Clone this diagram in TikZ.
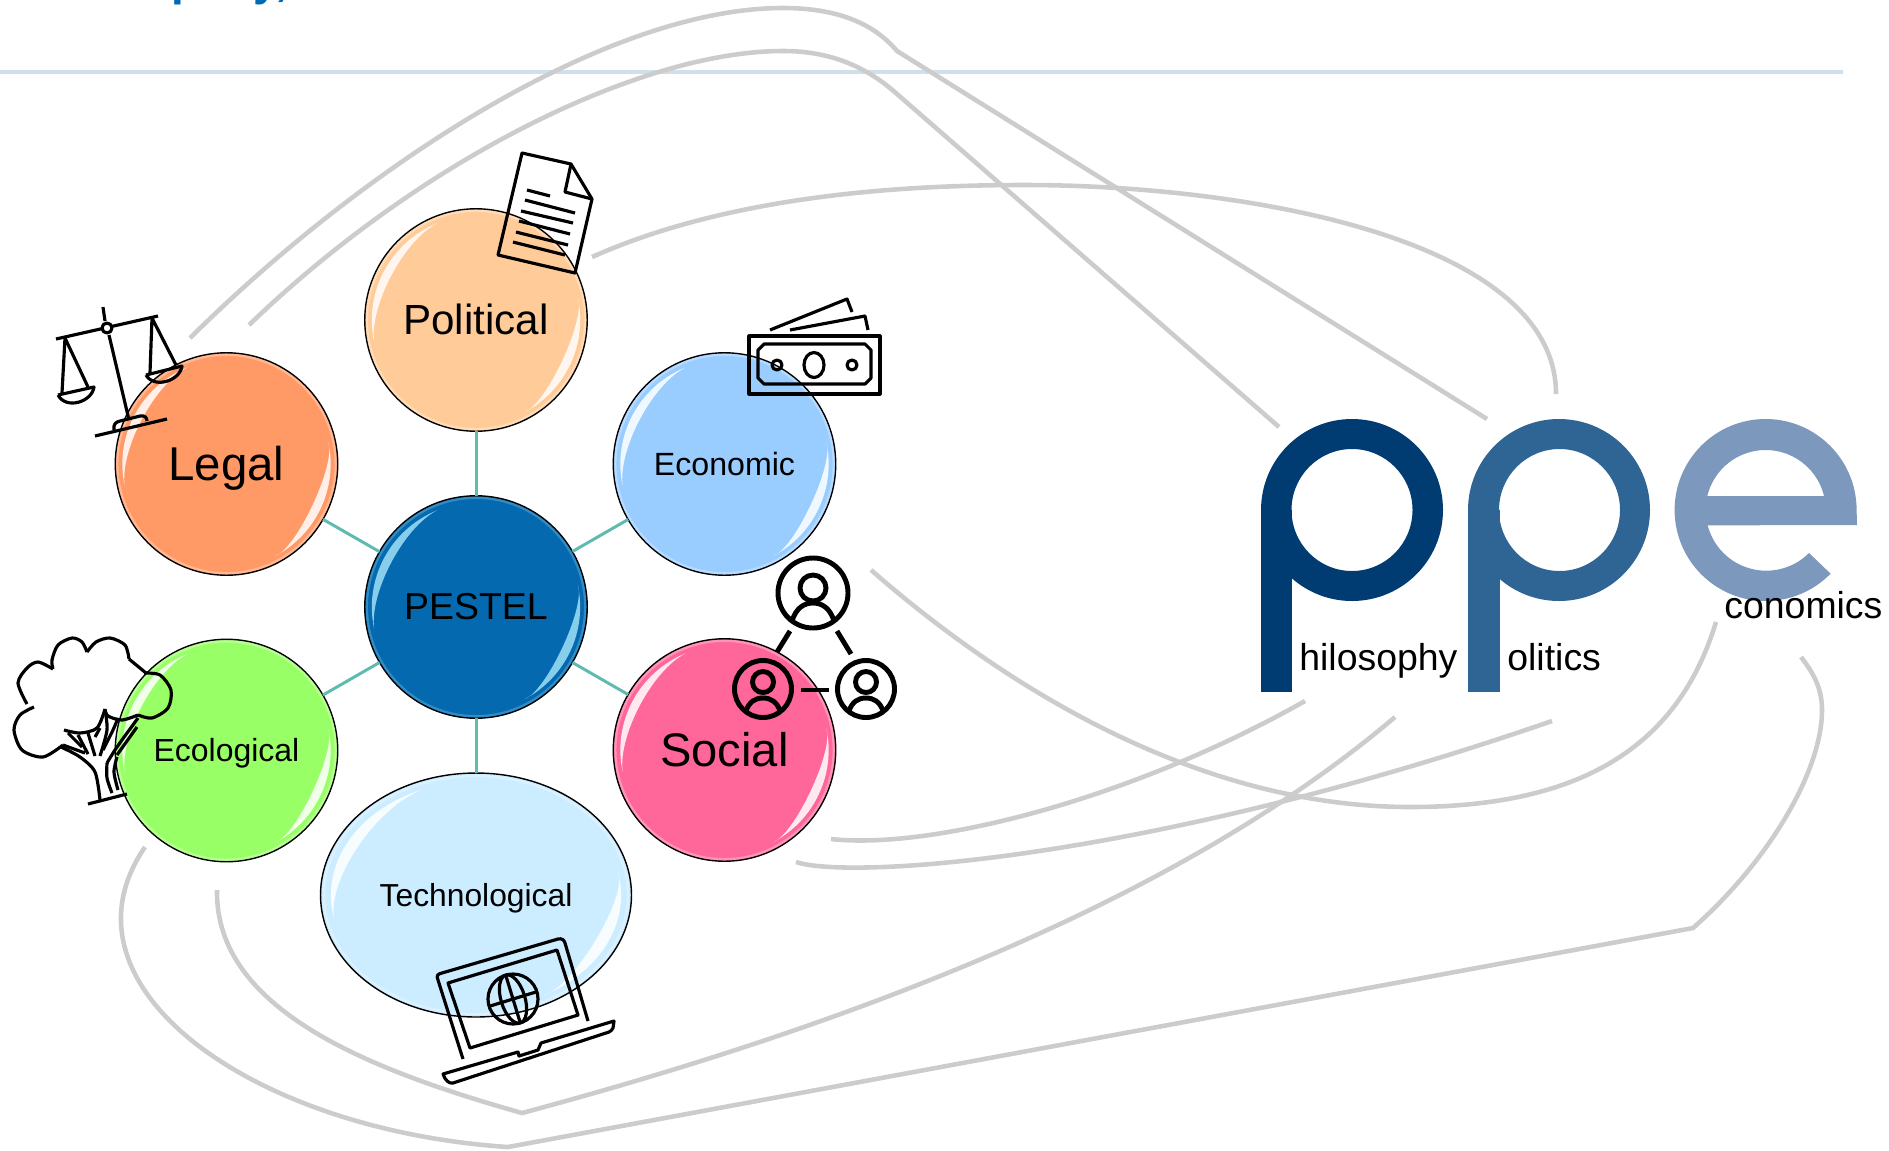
\documentclass[tikz,border=0pt]{standalone}
\usepackage{fontspec}
\setmainfont{Liberation Sans}
\usetikzlibrary{shapes,positioning,calc}
\definecolor{spoke}{HTML}{5FBBB0}
\definecolor{wire}{HTML}{CCCCCC}
\definecolor{headrule}{HTML}{D0E0EB}
\definecolor{headblue}{HTML}{0069B4}
\definecolor{ppeone}{HTML}{003B71}
\definecolor{ppetwo}{HTML}{2F6594}
\definecolor{ppethree}{HTML}{7C98BD}
\definecolor{pestelblue}{HTML}{0469AE}
\definecolor{pestelglow}{HTML}{9FE0F8}
\tikzstyle{bubble} = [ellipse, draw=black, line width=0.8pt, minimum width=4.45cm, minimum height=4.45cm, inner sep=0pt, outer sep=0pt, text=black, text depth=0.06em]
\tikzstyle{spokeline} = [spoke, line width=1.7pt]
\tikzstyle{wireline} = [wire, line width=2.6pt]
\tikzstyle{icon} = [black, line width=1.8pt, line join=round]
\tikzstyle{person} = [black, line width=2.8pt]
\tikzstyle{word} = [anchor=base west, inner sep=0pt, font=\fontsize{21.3}{26}\selectfont]

\begin{document}
\begin{tikzpicture}[x=0.02cm, y=-0.02cm]
    \useasboundingbox (0,0) rectangle (1889,1150);
    \node[anchor=base west, inner sep=0pt, text=headblue, font=\fontsize{26}{30}\bfseries\selectfont] (head) at (70,-5) {Company,};
    \draw[headrule, line width=2pt] (0,72) -- (1843,72);

    \node[bubble, fill=pestelblue, font=\fontsize{21.3}{26}\selectfont] (pestel) at (476,607) {PESTEL};
    \node[bubble, fill={rgb,255:red,255;green,204;blue,153}, font=\fontsize{24}{28}\selectfont] (political) at (476,320) {Political};
    \node[bubble, fill={rgb,255:red,255;green,153;blue,102}, font=\fontsize{27}{32}\selectfont] (legal) at (226.5,464) {Legal};
    \node[bubble, fill={rgb,255:red,153;green,204;blue,255}, font=\fontsize{18.3}{22}\selectfont] (economic) at (724.5,464) {Economic};
    \node[bubble, fill={rgb,255:red,153;green,255;blue,102}, font=\fontsize{18.2}{22}\selectfont] (ecological) at (226.5,750.5) {Ecological};
    \node[bubble, fill={rgb,255:red,255;green,102;blue,153}, font=\fontsize{26.8}{32}\selectfont] (social) at (724.5,750) {Social};
    \node[bubble, fill={rgb,255:red,204;green,236;blue,255}, font=\fontsize{18.1}{22}\selectfont, minimum width=6.22cm, minimum height=4.88cm] (technological) at (476,895) {Technological};

    \foreach \target in {political, legal, economic, ecological, social, technological}
        \draw[spokeline] (pestel) -- (\target);

    \foreach \n/\rx/\ry/\glow in {pestel/112/112/pestelglow, political/112/112/white, legal/112/112/white, economic/112/112/white, ecological/112/112/white, social/112/112/white, technological/156/122/white}{
        \begin{scope}[shift={(\n.center)}, x=\rx*0.02cm, y=\ry*0.02cm]
            \draw[\glow, opacity=0.3, line width=1.3pt] (0,0) ellipse[x radius=0.975, y radius=0.975];
            \fill[\glow, opacity=0.85] (192:0.93) arc[start angle=192, end angle=112, radius=0.93] .. controls (132:0.96) and (172:0.96) .. cycle;
            \fill[\glow, opacity=0.85] (12:0.93) arc[start angle=12, end angle=-62, radius=0.93] .. controls (-50:0.98) and (0:0.98) .. cycle;
        \end{scope}
    }

    \coordinate (legalin) at (190,338);
    \coordinate (politicalin) at (249,325);
    \coordinate (docout) at (592,257);
    \coordinate (peakone) at (783,8);
    \coordinate (peaktwo) at (783,51);
    \coordinate (kneeone) at (897,51);
    \coordinate (kneetwo) at (897,94);
    \coordinate (philtop) at (1279,427);
    \coordinate (poltop) at (1487,419);
    \coordinate (arcpeak) at (1024,185);
    \coordinate (ptop) at (1556,394);
    \coordinate (econin) at (871,570);
    \coordinate (dipone) at (1410,807);
    \coordinate (conin) at (1716,622);
    \coordinate (socone) at (831,839);
    \coordinate (philout) at (1305,701);
    \coordinate (soctwo) at (796,862);
    \coordinate (polout) at (1552,721);
    \coordinate (ecoone) at (217,890);
    \coordinate (cuspone) at (522,1113);
    \coordinate (phildown) at (1395,717);
    \coordinate (ecotwo) at (145,847);
    \coordinate (cusptwo) at (508,1147);
    \coordinate (elbow) at (1693,928);
    \coordinate (econdown) at (1801,657);

    \draw[wireline] (legalin) .. controls (370,160) and (610,8) .. (peakone) .. controls (840,8) and (875,25) .. (kneeone) -- (poltop);
    \draw[wireline] (politicalin) .. controls (420,160) and (640,51) .. (peaktwo) .. controls (835,51) and (870,70) .. (kneetwo) -- (philtop);
    \draw[wireline] (docout) .. controls (720,200) and (880,185) .. (arcpeak) .. controls (1250,185) and (1556,240) .. (ptop);
    \draw[wireline] (econin) .. controls (1020,700) and (1210,807) .. (dipone) .. controls (1590,807) and (1680,740) .. (conin);
    \draw[wireline] (socone) .. controls (930,850) and (1130,800) .. (philout);
    \draw[wireline] (soctwo) .. controls (850,880) and (1150,860) .. (polout);
    \draw[wireline] (ecoone) .. controls (215,1010) and (370,1070) .. (cuspone) .. controls (850,1025) and (1180,900) .. (phildown);
    \draw[wireline] (ecotwo) .. controls (50,985) and (250,1130) .. (cusptwo) -- (elbow) .. controls (1770,860) and (1822,770) .. (1822,710) .. controls (1822,690) and (1815,675) .. (econdown);

    \fill[ppeone, even odd rule] (1352,510) ellipse[x radius=91, y radius=91] (1352,510) ellipse[x radius=60.5, y radius=61];
    \fill[ppeone] (1261,510) rectangle (1292,692);
    \fill[ppetwo, even odd rule] (1559,510) ellipse[x radius=91, y radius=91] (1559.5,510) ellipse[x radius=60.5, y radius=61];
    \fill[ppetwo] (1468,510) rectangle (1499.5,692);
    \fill[ppethree, even odd rule] (1857,525) -- (1856.6,510) arc[start angle=0, end angle=-315.6, radius=91] -- (1809,553) arc[start angle=45, end angle=165.5, radius=60.5] -- cycle
        (1707,496) -- (1824,496) arc[start angle=-13.5, end angle=-166.5, radius=60] -- cycle;

    \node[word] (hil) at (1299,670) {hilosophy};
    \node[word] (oli) at (1507,670.5) {olitics};
    \node[word] (con) at (1724,618) {conomics};

    \draw[icon] (522,153) -- (571,164) -- (592,199) -- (575,273) -- (498,255) -- cycle;
    \draw[icon] (571,164) -- (565,192) -- (592,199);
    \foreach \xa/\ya/\xb/\yb in {527/190/550/196, 525/200/575/213, 521/211/573/223, 519/221/570/234, 516/232/568/245, 513/242/565/255}
        \draw[icon] (\xa,\ya) -- (\xb,\yb);

    \draw[icon] (56,339) -- (158,316);
    \draw[icon] (103,307) -- (105,321) (109,335) -- (129,420);
    \draw[icon, fill=white] (107,328) circle[radius=5];
    \draw[icon] (95,436) -- (167,419);
    \draw[icon] (114,430) .. controls (113,424) and (116,422) .. (120,421) -- (140,416) .. controls (145,415) and (147,418) .. (147,421);
    \draw[icon] (62,393) -- (65,338) -- (88,387);
    \draw[icon] (58,395) -- (94,387) .. controls (92,402) and (66,410) .. (58,395);
    \draw[icon] (150,373) -- (152,318) -- (176,365);
    \draw[icon] (146,375) -- (182,366) .. controls (180,381) and (154,389) .. (146,375);

    \draw[icon] (749,336) rectangle (880,394);
    \draw[icon] (764,344) -- (865,344) -- (871,350) -- (871,378) -- (865,384) -- (764,384) -- (758,378) -- (758,350) -- cycle;
    \draw[icon] (814,365) ellipse[x radius=10, y radius=12.5];
    \draw[icon] (777,365) circle[radius=5];
    \draw[icon] (852,365) circle[radius=5];
    \draw[icon] (770,330) -- (847,299) -- (852,312);
    \draw[icon] (790,330) -- (865,316) -- (868,330);

    \draw[person] (813,593) circle[radius=35];
    \draw[person] (813,588) circle[radius=13];
    \draw[person] (792,621) .. controls (796,608) and (804,603) .. (813,603) .. controls (822,603) and (830,608) .. (834,621);
    \draw[person] (763,689) circle[radius=28.5];
    \draw[person] (763,682) circle[radius=10.5];
    \draw[person] (746,711) .. controls (749,702) and (755,698) .. (763,698) .. controls (771,698) and (777,702) .. (780,711);
    \draw[person] (866,689) circle[radius=28.5];
    \draw[person] (866,682) circle[radius=10.5];
    \draw[person] (849,711) .. controls (852,702) and (858,698) .. (866,698) .. controls (874,698) and (880,702) .. (883,711);
    \draw[person] (790,631) -- (777,652);
    \draw[person] (837,631) -- (851,654);
    \draw[person] (801,690) -- (829,690);

    \draw[icon] plot[smooth] coordinates {(63,745) (43,757) (22,750) (14,730) (20,715) (34,707)};
    \draw[icon] plot[smooth] coordinates {(27,704) (18,683) (27,668) (38,662) (53,669)};
    \draw[icon] plot[smooth] coordinates {(53,669) (52,660) (58,645) (72,638) (82,642) (87,652)};
    \draw[icon] plot[smooth] coordinates {(87,652) (96,642) (110,638) (125,645) (129,659)};
    \draw[icon] (129,659) -- (146,673);
    \draw[icon] plot[smooth] coordinates {(144,673) (160,675) (171,690) (168,708) (152,718) (138,715)};
    \draw[icon] plot[smooth] coordinates {(138,715) (122,720) (108,716) (105,709)};
    \draw[icon] plot[smooth] coordinates {(105,709) (97,728) (80,733) (64,730)};
    \draw[icon] plot[smooth] coordinates {(61,747) (80,757) (95,772) (100,800)};
    \draw[icon] plot[smooth] coordinates {(107,763) (107,778) (112,793)};
    \draw[icon] plot[smooth] coordinates {(117,757) (114,772) (118,790)};
    \draw[icon] plot[smooth] coordinates {(107,763) (117,747) (138,718)};
    \draw[icon] (117,755) -- (137,727);
    \draw[icon] (88,804) -- (127,794);
    \draw[icon] (63,745) -- (85,753);
    \draw[icon] (68,733) -- (82,747);
    \draw[icon] (78,735) -- (88,754);
    \draw[icon] (88,733) -- (95,756);
    \draw[icon] (95,737) -- (100,728);
    \draw[icon] plot[smooth] coordinates {(100,756) (107,730) (105,710)};
    \draw[icon] plot[smooth] coordinates {(103,750) (113,730) (118,718)};

    \draw[icon] (463,1059) -- (438,980) .. controls (436,975) and (438,974) .. (442,973) -- (558,939) .. controls (562,938) and (564,940) .. (565,943) -- (588,1021);
    \draw[icon] (448,983) -- (557,950) -- (578,1015) -- (470,1048) -- cycle;
    \draw[icon] (513,999) circle[radius=25];
    \begin{scope}[shift={(513,999)}, rotate=-163]
        \draw[icon] (0,0) ellipse[x radius=12, y radius=25];
        \draw[icon] (0,-25) -- (0,25);
        \draw[icon] (-25,0) -- (25,0);
    \end{scope}
    \draw[icon] (443,1074) -- (518,1052) -- (519,1056) -- (538,1050) -- (541,1043) -- (614,1021) -- (613,1028) .. controls (612,1030) and (611,1031) .. (609,1032) -- (453,1083) .. controls (449,1084) and (445,1080) .. (443,1074) -- cycle;
\end{tikzpicture}
\end{document}
